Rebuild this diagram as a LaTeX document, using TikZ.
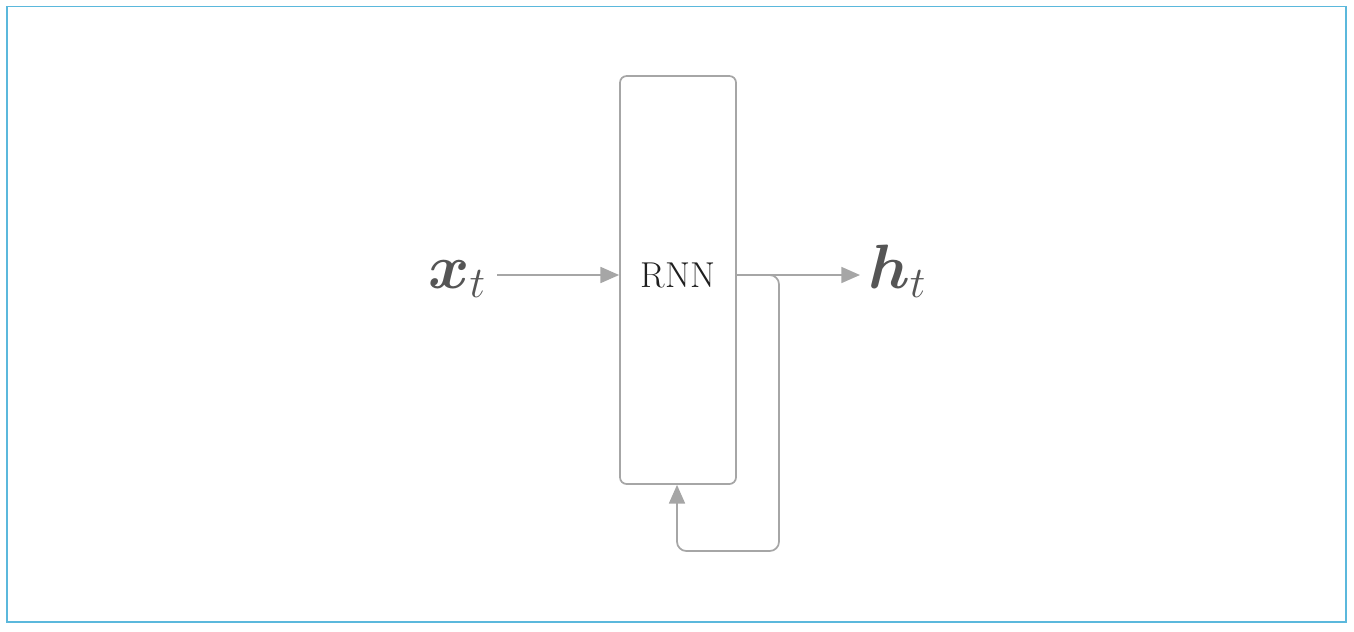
\RequirePackage{fix-cm}
\documentclass[tikz,border=0pt]{standalone}
\usepackage{amsmath,bm}
\usetikzlibrary{arrows.meta}
\definecolor{framec}{HTML}{5BB8DC}
\definecolor{linec}{HTML}{A6A6A6}
\definecolor{labc}{HTML}{555555}
\tikzset{
  conn/.style={draw=linec, line width=1.3pt, -{Triangle[length=14pt,width=12pt]}},
  lab/.style={text=labc, inner sep=0pt, font=\fontsize{47}{50}\selectfont},
}
\begin{document}
\begin{tikzpicture}[x=0.75pt,y=-0.75pt]
\useasboundingbox (0,0) rectangle (1354,632);
\draw[framec, line width=1.1pt] (7,6.5) rectangle (1346,622);
\node[draw=linec, line width=1.3pt, rounded corners=5pt, minimum width=116*0.75pt, minimum height=408*0.75pt, inner sep=0pt] (rnn) at (678,280) {};
\node[font=\fontsize{27}{30}\selectfont, text=black!88, inner sep=0pt] (lbl) at (678,275) {RNN};
\node[lab, anchor=base] (x) at (457,288) {$\bm{x}_t$};
\node[lab, anchor=base] (h) at (897,288) {$\bm{h}_t$};
\coordinate (xs) at (497,275);
\coordinate (hs) at (860,275);
\draw[conn] (xs) -- (xs -| rnn.west);
\draw[conn] (xs -| rnn.east) -- (hs);
\coordinate (c1) at (779,275);
\coordinate (c2) at (779,551);
\coordinate (c3) at (677,551);
\draw[conn, rounded corners=7pt] (xs -| rnn.east) -- (c1) -- (c2) -- (c3) -- (c3 |- rnn.south);
\end{tikzpicture}
\end{document}
